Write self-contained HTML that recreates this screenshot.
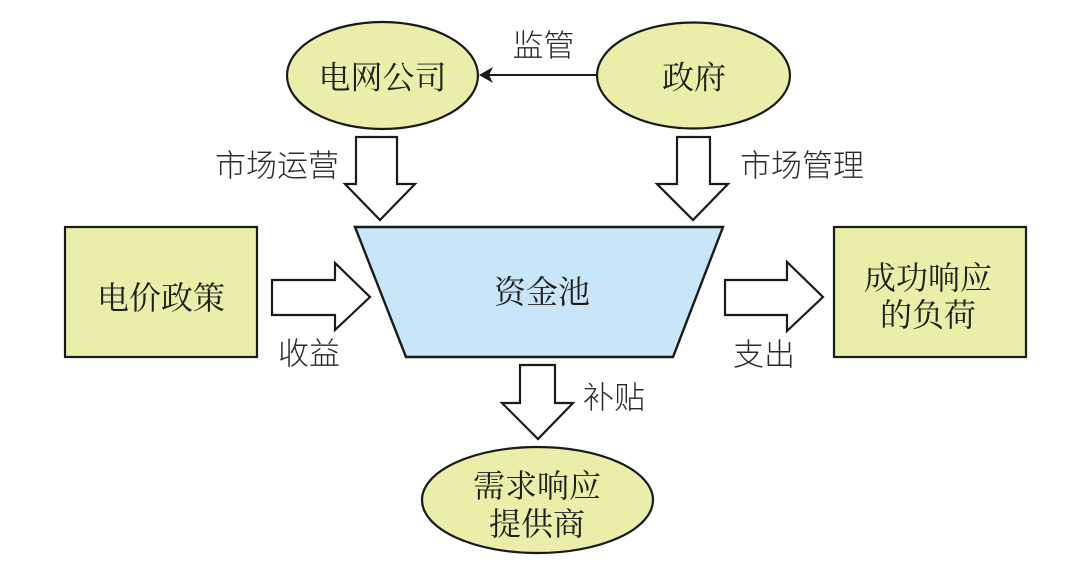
<!DOCTYPE html>
<html>
<head>
<meta charset="utf-8">
<style>
  html, body { margin:0; padding:0; background:#ffffff; }
  body { width:1080px; height:581px; overflow:hidden; }
  svg { display:block; }
  .t { font-family: "Noto Serif CJK SC", "Noto Serif CJK JP", "Liberation Serif", "Noto Sans CJK SC", serif; font-size:32px; fill:#1e1e1e; }
  .l { font-family: "Liberation Sans", "Noto Sans CJK SC", sans-serif; font-size:31px; fill:#2a2a2a; font-weight:300; }
</style>
</head>
<body>
<svg width="1080" height="581" viewBox="0 0 1080 581" xmlns="http://www.w3.org/2000/svg">
  <rect x="0" y="0" width="1080" height="581" fill="#ffffff"/>

  <!-- Top ellipses -->
  <ellipse cx="382.5" cy="75.5" rx="95.5" ry="53.5" fill="#ebeea8" stroke="#1a1a1a" stroke-width="2.2"/>
  <text class="t" x="382.5" y="75.5" text-anchor="middle" dominant-baseline="central">电网公司</text>

  <ellipse cx="693.5" cy="75.5" rx="96.5" ry="53" fill="#ebeea8" stroke="#1a1a1a" stroke-width="2.2"/>
  <text class="t" x="694" y="75.5" text-anchor="middle" dominant-baseline="central">政府</text>

  <!-- 监管 arrow -->
  <line x1="597" y1="75" x2="486" y2="75" stroke="#1a1a1a" stroke-width="2"/>
  <polygon points="479,75 493,67 489,75 493,83" fill="#1a1a1a"/>
  <text class="l" x="543.5" y="46" text-anchor="middle" dominant-baseline="central">监管</text>

  <!-- Left down arrow (市场运营) -->
  <polygon points="356,137 397,137 397,184 415,184 380,220 345,184 356,184" fill="#ffffff" stroke="#1a1a1a" stroke-width="2.2" stroke-linejoin="miter"/>
  <text class="l" x="277" y="166" text-anchor="middle" dominant-baseline="central">市场运营</text>

  <!-- Right down arrow (市场管理) -->
  <polygon points="677,137 710,137 710,184 728,184 693,220 657,184 677,184" fill="#ffffff" stroke="#1a1a1a" stroke-width="2.2"/>
  <text class="l" x="802" y="166" text-anchor="middle" dominant-baseline="central">市场管理</text>

  <!-- Trapezoid 资金池 -->
  <polygon points="355,227 723,227 673,357 406,357" fill="#c8e6f8" stroke="#1a1a1a" stroke-width="2.4" stroke-linejoin="miter"/>
  <text class="t" x="542" y="290" text-anchor="middle" dominant-baseline="central">资金池</text>

  <!-- Left box 电价政策 -->
  <rect x="65" y="227" width="192" height="130" fill="#ebeea8" stroke="#1a1a1a" stroke-width="2.2"/>
  <text class="t" x="161" y="296" text-anchor="middle" dominant-baseline="central">电价政策</text>

  <!-- Left horizontal arrow (收益) -->
  <polygon points="272,280 335,280 335,263 370,297 335,330 335,315 272,315" fill="#ffffff" stroke="#1a1a1a" stroke-width="2.2"/>
  <text class="l" x="309" y="354" text-anchor="middle" dominant-baseline="central">收益</text>

  <!-- Right horizontal arrow (支出) -->
  <polygon points="725,280 787,280 787,262 823,297 787,331 787,315 725,315" fill="#ffffff" stroke="#1a1a1a" stroke-width="2.2"/>
  <text class="l" x="764" y="355" text-anchor="middle" dominant-baseline="central">支出</text>

  <!-- Right box -->
  <rect x="834" y="227" width="192" height="130" fill="#ebeea8" stroke="#1a1a1a" stroke-width="2.2"/>
  <text class="t" x="928" y="276" text-anchor="middle" dominant-baseline="central">成功响应</text>
  <text class="t" x="928" y="313" text-anchor="middle" dominant-baseline="central">的负荷</text>

  <!-- Bottom down arrow (补贴) -->
  <polygon points="520,365 555,365 555,403 573,403 538,439 502,403 520,403" fill="#ffffff" stroke="#1a1a1a" stroke-width="2.2"/>
  <text class="l" x="614" y="398" text-anchor="middle" dominant-baseline="central">补贴</text>

  <!-- Bottom ellipse -->
  <ellipse cx="537.5" cy="500" rx="115.5" ry="53" fill="#ebeea8" stroke="#1a1a1a" stroke-width="2.2"/>
  <text class="t" x="537" y="484" text-anchor="middle" dominant-baseline="central">需求响应</text>
  <text class="t" x="537" y="522" text-anchor="middle" dominant-baseline="central">提供商</text>
</svg>
</body>
</html>
